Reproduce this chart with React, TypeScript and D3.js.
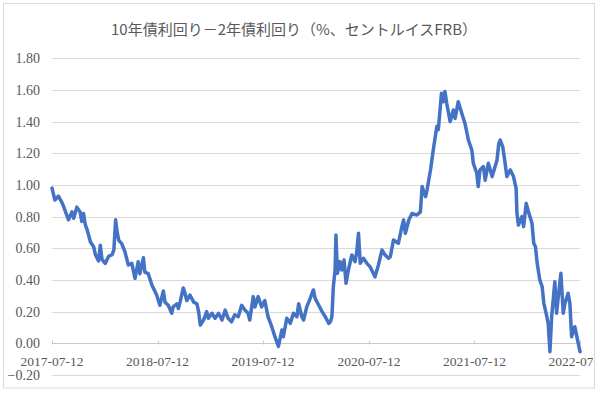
import React, { useEffect, useRef } from 'react';
import * as d3 from 'd3';

const title = '10年債利回り－2年債利回り（%、セントルイスFRB）';

// dates and spread values (%)
const dates = [
  '2017-07-12', '2017-07-22', '2017-08-03', '2017-08-15', '2017-08-20', '2017-09-07', '2017-09-19', '2017-09-25',
  '2017-10-06', '2017-10-17', '2017-10-23', '2017-10-29', '2017-11-04', '2017-11-10', '2017-11-22', '2017-12-03',
  '2017-12-09', '2017-12-20', '2017-12-26', '2018-01-01', '2018-01-12', '2018-01-24', '2018-02-05', '2018-02-11',
  '2018-02-17', '2018-02-22', '2018-02-28', '2018-03-10', '2018-03-21', '2018-04-02', '2018-04-14', '2018-04-25',
  '2018-05-06', '2018-05-12', '2018-05-24', '2018-05-29', '2018-06-10', '2018-06-22', '2018-07-09', '2018-07-20',
  '2018-08-01', '2018-08-07', '2018-08-18', '2018-08-30', '2018-09-04', '2018-09-17', '2018-09-22', '2018-09-28',
  '2018-10-09', '2018-10-15', '2018-10-21', '2018-11-01', '2018-11-14', '2018-11-25', '2018-12-01', '2018-12-07',
  '2018-12-18', '2018-12-29', '2019-01-04', '2019-01-16', '2019-01-27', '2019-02-08', '2019-02-20', '2019-03-03',
  '2019-03-13', '2019-03-25', '2019-04-05', '2019-04-17', '2019-04-29', '2019-05-10', '2019-05-21', '2019-05-27',
  '2019-06-08', '2019-06-14', '2019-06-25', '2019-07-07', '2019-07-18', '2019-07-29', '2019-08-11', '2019-08-22',
  '2019-09-03', '2019-09-15', '2019-09-20', '2019-10-02', '2019-10-14', '2019-10-25', '2019-11-06', '2019-11-12',
  '2019-11-23', '2019-11-29', '2019-12-10', '2019-12-22', '2020-01-02', '2020-01-08', '2020-01-20', '2020-02-01',
  '2020-02-12', '2020-02-24', '2020-03-01', '2020-03-06', '2020-03-11', '2020-03-17', '2020-03-20', '2020-03-25',
  '2020-04-03', '2020-04-09', '2020-04-17', '2020-04-24', '2020-05-02', '2020-05-14', '2020-05-25', '2020-05-31',
  '2020-06-06', '2020-06-12', '2020-06-23', '2020-07-05', '2020-07-16', '2020-08-02', '2020-08-14', '2020-08-26',
  '2020-09-06', '2020-09-18', '2020-09-24', '2020-10-05', '2020-10-22', '2020-11-03', '2020-11-09', '2020-11-15',
  '2020-11-27', '2020-12-08', '2020-12-25', '2021-01-06', '2021-01-12', '2021-01-24', '2021-01-29', '2021-02-10',
  '2021-02-21', '2021-03-04', '2021-03-09', '2021-03-15', '2021-03-20', '2021-03-26', '2021-04-01', '2021-04-07',
  '2021-04-19', '2021-04-30', '2021-05-06', '2021-05-17', '2021-05-29', '2021-06-09', '2021-06-21', '2021-07-03',
  '2021-07-08', '2021-07-20', '2021-07-25', '2021-07-31', '2021-08-12', '2021-08-18', '2021-08-29', '2021-09-11',
  '2021-09-22', '2021-09-28', '2021-10-04', '2021-10-09', '2021-10-18', '2021-10-26', '2021-11-01', '2021-11-13',
  '2021-11-24', '2021-12-03', '2021-12-06', '2021-12-11', '2021-12-23', '2021-12-29', '2022-01-07', '2022-01-15',
  '2022-01-27', '2022-02-02', '2022-02-08', '2022-02-14', '2022-02-23', '2022-03-03', '2022-03-09', '2022-03-18',
  '2022-03-24', '2022-03-30', '2022-04-05', '2022-04-16', '2022-04-22', '2022-04-28', '2022-05-07', '2022-05-15',
  '2022-05-21', '2022-06-01', '2022-06-07', '2022-06-13', '2022-06-24', '2022-07-06', '2022-07-12',
];

const spread = [
  0.98, 0.905, 0.93, 0.89, 0.87, 0.78, 0.83, 0.79,
  0.86, 0.83, 0.77, 0.82, 0.75, 0.72, 0.64, 0.61,
  0.56, 0.52, 0.62, 0.53, 0.505, 0.55, 0.56, 0.59,
  0.78, 0.705, 0.65, 0.63, 0.58, 0.495, 0.505, 0.41,
  0.515, 0.44, 0.54, 0.45, 0.44, 0.37, 0.305, 0.24,
  0.33, 0.26, 0.24, 0.19, 0.23, 0.25, 0.22, 0.26,
  0.35, 0.316, 0.27, 0.305, 0.26, 0.25, 0.2, 0.115,
  0.147, 0.2, 0.158, 0.19, 0.158, 0.19, 0.147, 0.21,
  0.158, 0.136, 0.18, 0.168, 0.24, 0.21, 0.19, 0.147,
  0.295, 0.23, 0.295, 0.23, 0.27, 0.168, 0.105, 0.042,
  -0.02, 0.084, 0.042, 0.158, 0.126, 0.19, 0.168, 0.25,
  0.168, 0.147, 0.23, 0.284, 0.337, 0.284, 0.242, 0.2,
  0.168, 0.126, 0.136, 0.168, 0.358, 0.463, 0.684, 0.442,
  0.516, 0.463, 0.526, 0.379, 0.463, 0.558, 0.516, 0.579,
  0.695, 0.505, 0.537, 0.505, 0.484, 0.42, 0.495, 0.589,
  0.558, 0.537, 0.547, 0.653, 0.632, 0.737, 0.779, 0.695,
  0.779, 0.82, 0.81, 0.83, 0.99, 0.926, 0.968, 1.095,
  1.24, 1.37, 1.35, 1.474, 1.58, 1.526, 1.59, 1.516,
  1.4, 1.474, 1.42, 1.526, 1.453, 1.39, 1.284, 1.22,
  1.137, 1.074, 0.99, 1.095, 1.116, 1.03, 1.137, 1.053,
  1.12, 1.158, 1.26, 1.284, 1.24, 1.137, 1.053, 1.095,
  1.053, 0.98, 0.82, 0.747, 0.8, 0.737, 0.884, 0.83,
  0.758, 0.632, 0.61, 0.505, 0.4, 0.358, 0.253, 0.179,
  0.126, -0.053, 0.168, 0.389, 0.19, 0.295, 0.442, 0.19,
  0.253, 0.316, 0.253, 0.042, 0.105, 0.0, -0.053,
];

const yTicks = [-0.2, 0, 0.2, 0.4, 0.6, 0.8, 1.0, 1.2, 1.4, 1.6, 1.8];
const xTickLabels = ['2017-07-12', '2018-07-12', '2019-07-12', '2020-07-12', '2021-07-12', '2022-07-12'];

export default function App() {
  const svgRef = useRef<SVGSVGElement>(null);

  useEffect(() => {
    if (!svgRef.current) return;
    const svg = d3.select(svgRef.current);
    svg.selectAll('*').remove();

    const parse = d3.timeParse('%Y-%m-%d');
    const data = dates.map((d, i) => ({ date: parse(d) as Date, value: spread[i] }));

    const x = d3
      .scaleTime()
      .domain([parse(xTickLabels[0]) as Date, parse(xTickLabels[xTickLabels.length - 1]) as Date])
      .range([52, 580]);
    const y = d3.scaleLinear().domain([-0.2, 1.8]).range([375, 58.3]);

    // frame
    svg
      .append('rect')
      .attr('x', 3.5)
      .attr('y', 3.5)
      .attr('width', 591)
      .attr('height', 384.5)
      .attr('fill', '#fff')
      .attr('stroke', '#d9d9d9');

    svg
      .append('clipPath')
      .attr('id', 'frame-clip')
      .append('rect')
      .attr('x', 4)
      .attr('y', 4)
      .attr('width', 589)
      .attr('height', 383);

    const g = svg.append('g').attr('clip-path', 'url(#frame-clip)');

    // title
    g.append('text')
      .attr('x', 294)
      .attr('y', 35)
      .attr('text-anchor', 'middle')
      .style('font-family', '"Noto Sans CJK JP", "Noto Sans", sans-serif')
      .style('font-size', '15px')
      .style('fill', '#595959')
      .text(title);

    // horizontal grid lines
    g.selectAll('.grid')
      .data(yTicks)
      .enter()
      .append('line')
      .attr('x1', x.range()[0])
      .attr('x2', x.range()[1])
      .attr('y1', (d) => Math.round(y(d)) + 0.5)
      .attr('y2', (d) => Math.round(y(d)) + 0.5)
      .attr('stroke', (d) => (d === 0 ? '#c8c8c8' : '#d9d9d9'))
      .attr('stroke-width', 1);

    // y labels
    g.selectAll('.ylab')
      .data(yTicks)
      .enter()
      .append('text')
      .attr('x', 40)
      .attr('y', (d) => y(d))
      .attr('dy', '0.35em')
      .attr('text-anchor', 'end')
      .style('font-family', '"Liberation Serif", "Times New Roman", serif')
      .style('font-size', '14px')
      .style('fill', '#595959')
      .text((d) => d3.format('.2f')(d));

    // x ticks + labels on the zero line
    const y0 = Math.round(y(0)) + 0.5;
    const xTickDates = xTickLabels.map((s) => parse(s) as Date);
    g.selectAll('.xtick')
      .data(xTickDates)
      .enter()
      .append('line')
      .attr('x1', (d) => Math.round(x(d)) + 0.5)
      .attr('x2', (d) => Math.round(x(d)) + 0.5)
      .attr('y1', y0 - 3)
      .attr('y2', y0 + 1)
      .attr('stroke', '#c8c8c8');

    // last label sits at the frame edge and is cut there, as in the original
    g.selectAll('.xlab')
      .data(xTickDates)
      .enter()
      .append('text')
      .attr('x', (d) => x(d))
      .attr('y', y0 + 22)
      .attr('text-anchor', 'middle')
      .style('font-family', '"Liberation Serif", "Times New Roman", serif')
      .style('font-size', '13.5px')
      .style('fill', '#595959')
      .text((d) => d3.timeFormat('%Y-%m-%d')(d));

    // series
    const line = d3
      .line<{ date: Date; value: number }>()
      .x((d) => x(d.date))
      .y((d) => y(d.value))
      .curve(d3.curveLinear);

    g.append('path')
      .datum(data)
      .attr('d', line)
      .attr('fill', 'none')
      .attr('stroke', '#4472c4')
      .attr('stroke-width', 3.5)
      .attr('stroke-linejoin', 'round')
      .attr('stroke-linecap', 'round');
  }, []);

  return (
    <div style={{ position: 'absolute', left: 0, top: 0, background: '#fff' }}>
      <svg ref={svgRef} width={600} height={395} style={{ display: 'block' }}></svg>
    </div>
  );
}
